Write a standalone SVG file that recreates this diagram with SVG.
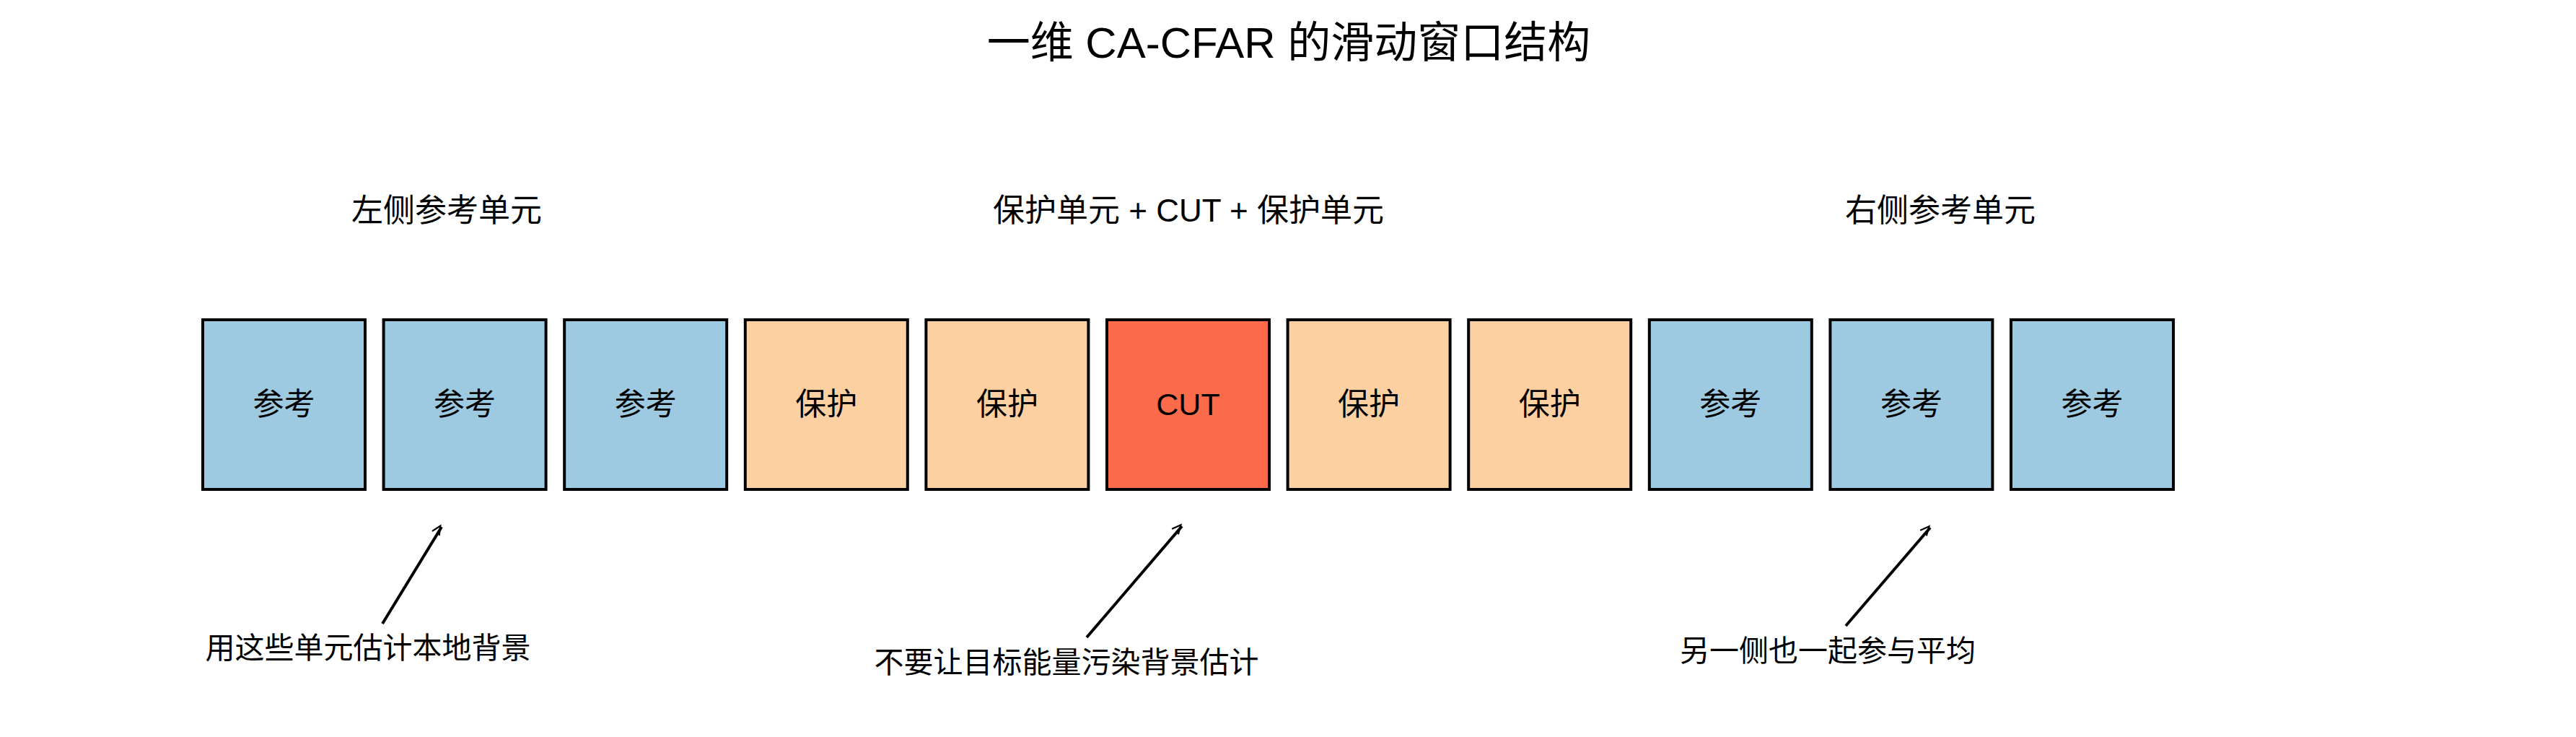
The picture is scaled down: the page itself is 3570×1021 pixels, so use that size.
<svg xmlns="http://www.w3.org/2000/svg" width="3570" height="1021" viewBox="0 0 3570 1021">
<style>
text{font-family:"Liberation Sans","Noto Sans CJK SC",sans-serif;fill:#000}
.box{stroke:#000;stroke-width:4}
.ref{fill:#9ECAE1}.grd{fill:#FDD0A2}.cut{fill:#FB6A4A}
.lbl{font-size:43px;text-anchor:middle;dominant-baseline:central}
.sec{font-size:44px;text-anchor:middle;dominant-baseline:central}
.note{font-size:41px;text-anchor:middle;dominant-baseline:central}
.arr{stroke:#000;stroke-width:4;fill:none;marker-end:url(#ah)}
</style>
<defs><marker id="ah" viewBox="0 0 10 10" refX="9" refY="5" markerWidth="6" markerHeight="6" orient="auto" markerUnits="userSpaceOnUse" style="overflow:visible"><path d="M-8,-3 L9,5 L-8,13" transform="scale(1.2) translate(-1,-4)" fill="none" stroke="#000" stroke-width="3"/></marker></defs>
<rect width="3570" height="1021" fill="#fff"/>
<text x="1786" y="59" font-size="60" text-anchor="middle" dominant-baseline="central">一维 CA-CFAR 的滑动窗口结构</text>
<text class="sec" x="619" y="291">左侧参考单元</text>
<text class="sec" x="1647" y="291">保护单元 + CUT + 保护单元</text>
<text class="sec" x="2689" y="291">右侧参考单元</text>
<g id="c1"><rect class="box ref" x="281" y="443" width="225" height="235"/><text class="lbl" x="393.5" y="560">参考</text></g>
<g id="c2"><rect class="box ref" x="531.6" y="443" width="225" height="235"/><text class="lbl" x="644.1" y="560">参考</text></g>
<g id="c3"><rect class="box ref" x="782.2" y="443" width="225" height="235"/><text class="lbl" x="894.7" y="560">参考</text></g>
<g id="c4"><rect class="box grd" x="1032.8" y="443" width="225" height="235"/><text class="lbl" x="1145.3" y="560">保护</text></g>
<g id="c5"><rect class="box grd" x="1283.4" y="443" width="225" height="235"/><text class="lbl" x="1395.9" y="560">保护</text></g>
<g id="c6"><rect class="box cut" x="1534" y="443" width="225" height="235"/><text class="lbl" x="1646.5" y="560">CUT</text></g>
<g id="c7"><rect class="box grd" x="1784.6" y="443" width="225" height="235"/><text class="lbl" x="1897.1" y="560">保护</text></g>
<g id="c8"><rect class="box grd" x="2035.2" y="443" width="225" height="235"/><text class="lbl" x="2147.7" y="560">保护</text></g>
<g id="c9"><rect class="box ref" x="2285.8" y="443" width="225" height="235"/><text class="lbl" x="2398.3" y="560">参考</text></g>
<g id="c10"><rect class="box ref" x="2536.4" y="443" width="225" height="235"/><text class="lbl" x="2648.9" y="560">参考</text></g>
<g id="c11"><rect class="box ref" x="2787" y="443" width="225" height="235"/><text class="lbl" x="2899.5" y="560">参考</text></g>
<g id="connectors">
<line class="arr" x1="530" y1="864" x2="612" y2="730"/>
<line class="arr" x1="1506" y1="883" x2="1638" y2="729"/>
<line class="arr" x1="2558" y1="867" x2="2675" y2="731"/>
</g>
<text class="note" x="510" y="898">用这些单元估计本地背景</text>
<text class="note" x="1478" y="918">不要让目标能量污染背景估计</text>
<text class="note" x="2533" y="902">另一侧也一起参与平均</text>
</svg>
